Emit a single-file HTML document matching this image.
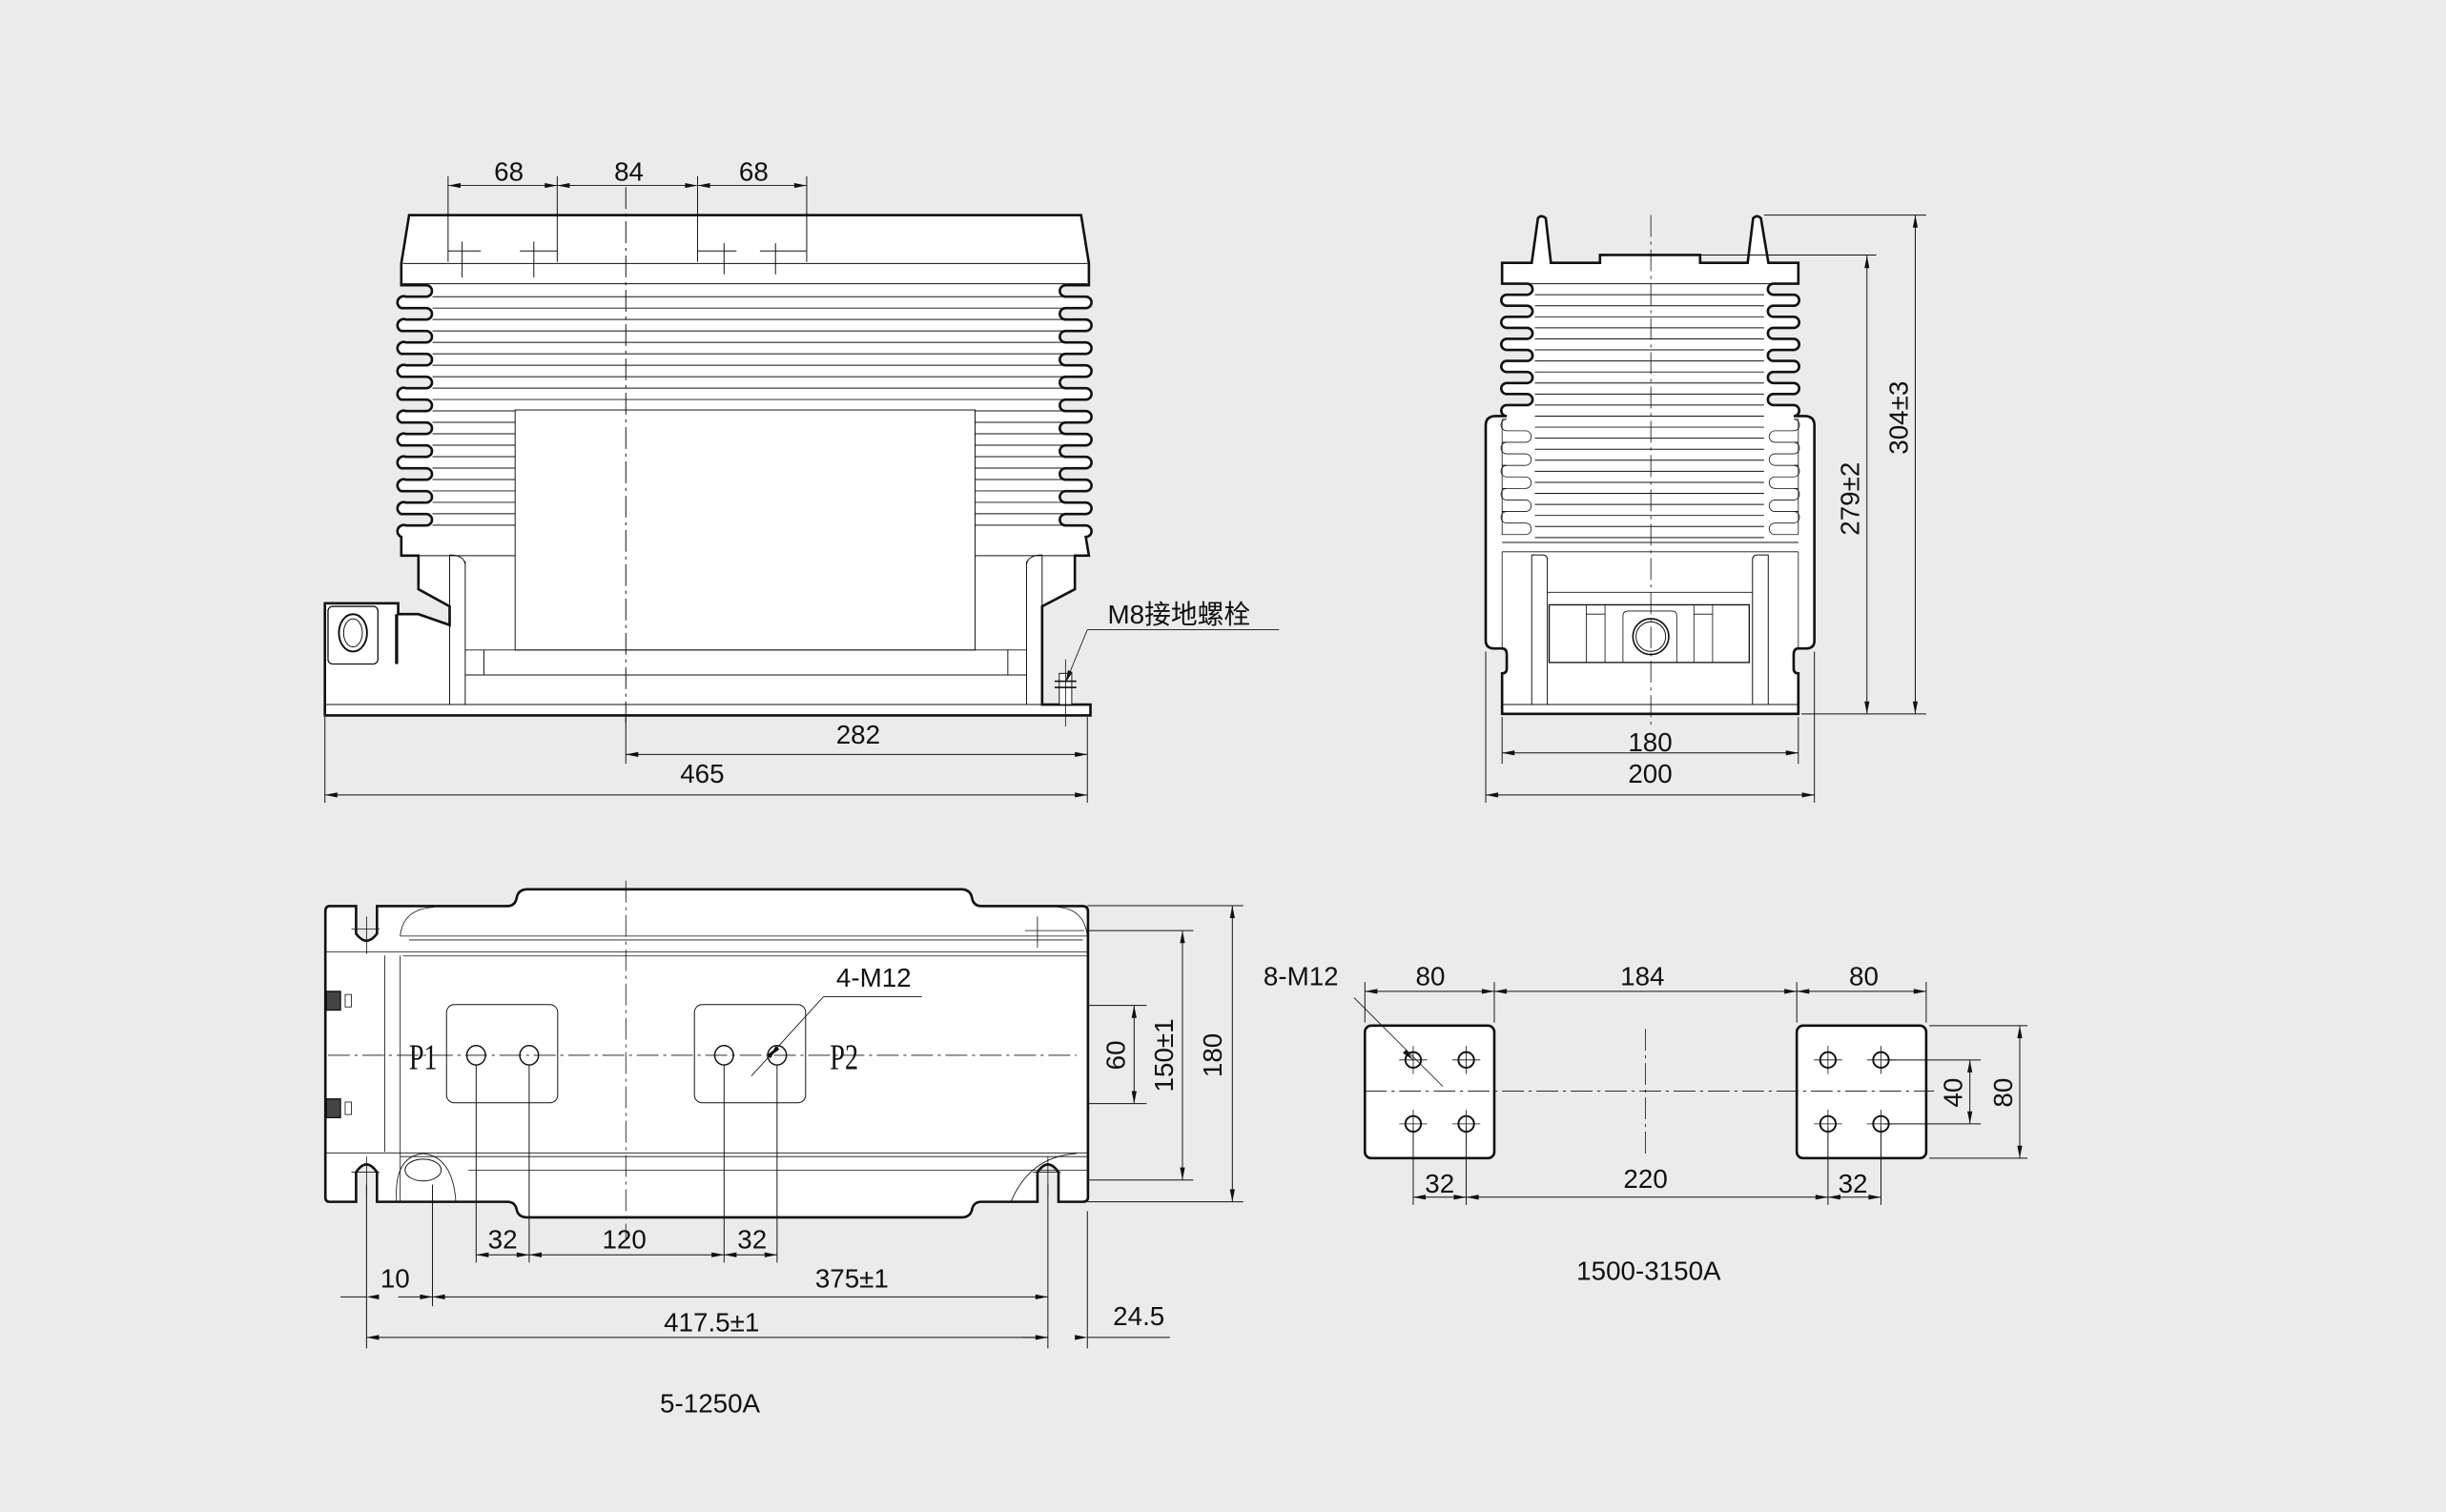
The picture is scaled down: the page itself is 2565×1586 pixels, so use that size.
<!DOCTYPE html>
<html><head><meta charset="utf-8"><style>
html,body{margin:0;padding:0;background:#ebebeb;}
svg{display:block;}
text{font-family:"Liberation Sans","Noto Sans CJK SC",sans-serif;fill:#111;font-size:17px;}
.p{font-family:"Liberation Serif",serif;font-size:23px;}
</style></head><body>
<svg id="s" width="2565" height="1586" viewBox="0 0 1568 970" xmlns="http://www.w3.org/2000/svg">
<rect width="1568" height="970" fill="#ebebeb"/>
<g id="g" fill="none" stroke="#111" stroke-width="0.8"></g>
<text x="326" y="116" text-anchor="middle">68</text>
<text x="403" y="116" text-anchor="middle">84</text>
<text x="483" y="116" text-anchor="middle">68</text>
<text x="550" y="477" text-anchor="middle">282</text>
<text x="450" y="502" text-anchor="middle">465</text>
<text x="710" y="400">M8接地螺栓</text>
<text x="1058" y="482" text-anchor="middle">180</text>
<text x="1058" y="502" text-anchor="middle">200</text>
<text transform="translate(1192,320) rotate(-90)" text-anchor="middle">279±2</text>
<text transform="translate(1223,268) rotate(-90)" text-anchor="middle">304±3</text>
<text x="560" y="633" text-anchor="middle">4-M12</text>
<text class="p" transform="translate(271,686) scale(0.75,1)" text-anchor="middle">P1</text>
<text class="p" transform="translate(541,686) scale(0.75,1)" text-anchor="middle">P2</text>
<text transform="translate(721,677) rotate(-90)" text-anchor="middle">60</text>
<text transform="translate(752,677) rotate(-90)" text-anchor="middle">150±1</text>
<text transform="translate(783,677) rotate(-90)" text-anchor="middle">180</text>
<text x="322" y="801" text-anchor="middle">32</text>
<text x="400" y="801" text-anchor="middle">120</text>
<text x="482" y="801" text-anchor="middle">32</text>
<text x="253" y="826" text-anchor="middle">10</text>
<text x="546" y="826" text-anchor="middle">375±1</text>
<text x="456" y="854" text-anchor="middle">417.5±1</text>
<text x="730" y="850" text-anchor="middle">24.5</text>
<text x="455" y="906" text-anchor="middle">5-1250A</text>
<text x="834" y="632" text-anchor="middle">8-M12</text>
<text x="917" y="632" text-anchor="middle">80</text>
<text x="1053" y="632" text-anchor="middle">184</text>
<text x="1195" y="632" text-anchor="middle">80</text>
<text x="923" y="765" text-anchor="middle">32</text>
<text x="1055" y="762" text-anchor="middle">220</text>
<text x="1188" y="765" text-anchor="middle">32</text>
<text transform="translate(1258,701) rotate(-90)" text-anchor="middle">40</text>
<text transform="translate(1290,701) rotate(-90)" text-anchor="middle">80</text>
<text x="1057" y="821" text-anchor="middle">1500-3150A</text>
</svg>
<script>
var g=document.getElementById('g'),h='';
function P(d,w,f){h+='<path d="'+d+'" stroke-width="'+(w||0.8)+'" fill="'+(f||'none')+'"/>';}
function L(x1,y1,x2,y2,w,da){h+='<line x1="'+x1+'" y1="'+y1+'" x2="'+x2+'" y2="'+y2+'" stroke-width="'+(w||0.6)+'"'+(da?' stroke-dasharray="'+da+'"':'')+'/>';}
function C(x,y,r,w){h+='<circle cx="'+x+'" cy="'+y+'" r="'+r+'" stroke-width="'+(w||1)+'" fill="#fff"/>';}
function arr(x,y,dx,dy){var px=-dy,py=dx;h+='<path d="M'+x+' '+y+' L'+(x+dx*8+px*1.6)+' '+(y+dy*8+py*1.6)+' L'+(x+dx*8-px*1.6)+' '+(y+dy*8-py*1.6)+'Z" fill="#111" stroke="none"/>';}
function HD(x1,x2,y){L(x1,y,x2,y,0.6);arr(x1,y,1,0);arr(x2,y,-1,0);}
function VD(x,y1,y2){L(x,y1,x,y2,0.6);arr(x,y1,0,1);arr(x,y2,0,-1);}
// ---------- FRONT VIEW ----------
var r=3.67,p=4*r,y0=183,n=11;
var d='M262 138 L693 138 L698 169 L698 '+y0;
var y=y0;
for(var i=0;i<n;i++){d+=' L683 '+y+' A'+r+' '+r+' 0 0 0 683 '+(y+2*r)+' L696 '+(y+2*r)+' A'+r+' '+r+' 0 0 1 696 '+(y+4*r);y+=p;}
var yb=y;
d+=' L698 '+(yb+12)+' L689 '+(yb+12)+' L689 378 L668 389 L668 452 L699 452 L699 459 L208 459 L208 387 L255 387 L255 394 L268 394 L288 401 L288 389 L268 378 L268 '+(yb+12)+' L257 '+(yb+12);
y=yb;
for(var i=0;i<n;i++){d+=' L257 '+y+' A'+r+' '+r+' 0 0 1 260 '+(y-2*r)+' L273 '+(y-2*r)+' A'+r+' '+r+' 0 0 0 273 '+(y-4*r);y-=p;}
d+=' L257 '+y0+' L257 169 Z';
P(d,1.6,'#fff');
L(258,169,697,169,0.6);L(258,182,697,182,0.6);
for(var k=1;k<22;k++){var yy=y0+k*7.33;if(yy<263){L(277,yy,681,yy,0.6);}else{L(277,yy,330,yy,0.6);L(625,yy,681,yy,0.6);}}
L(268,yb+12,689,yb+12,0.6);
h+='<rect x="330" y="263" width="295" height="154" fill="#fff" stroke="#111" stroke-width="0.6"/>';
L(298,417,658,417,0.6);L(298,433,658,433,0.6);L(310,417,310,433,0.6);L(646,417,646,433,0.6);
L(288,356,288,452,0.6);L(298,360,298,452,0.6);P('M288 356 Q297 356 298 362',0.6);
L(668,356,668,452,0.6);L(658,360,658,452,0.6);P('M668 356 Q659 356 658 362',0.6);
L(208,452,699,452,0.6);
h+='<rect x="210" y="389" width="32" height="37" rx="3" fill="#fff" stroke="#111" stroke-width="0.8"/>';
h+='<ellipse cx="226" cy="406" rx="9" ry="12" fill="none" stroke="#111" stroke-width="1.2"/><ellipse cx="226" cy="406" rx="6" ry="9" fill="none" stroke="#111" stroke-width="0.6"/>';
L(254,394,254,426,2);
L(287,113,287,168);L(357,113,357,168);L(447,113,447,168);L(517,113,517,168);
HD(287,357,119);HD(357,447,119);HD(447,517,119);
L(296,155,296,178);L(287,161,308,161);L(342,155,342,178);L(333,161,357,161);
L(464,156,464,176);L(447,161,472,161);L(497,156,497,176);L(487,161,517,161);
L(401,120,401,465,0.6,'14 3 2 3');
HD(401,697,484);L(401,460,401,490);L(697,460,697,515);
HD(208,697,510);L(208,460,208,515);
h+='<rect x="679" y="432" width="8" height="20" fill="#fff" stroke="#111" stroke-width="0.6"/>';
L(676,437,690,437,1);L(676,441,690,441,1);L(683,423,683,466,0.5);
L(683,438,697,404,0.5);arr(683,438,0.38,-0.93);L(697,404,820,404,0.5);
// ---------- SIDE VIEW ----------
var r2=3.54,m=6,tp=182,fb=tp+m*4*r2;
var sd='M963 168.6 L982 168.6 L986 140 Q988 137.5 991 140 L994.3 168.6 L1025.8 168.6 L1025.8 163.6 L1090 163.6 L1090 168.6 L1120.5 168.6 L1124 140 Q1126.5 137.5 1129 140 L1133.8 168.6 L1153 168.6 L1153 '+tp;
y=tp;
for(var i=0;i<m;i++){sd+=' L1137 '+y+' A'+r2+' '+r2+' 0 0 0 1137 '+(y+2*r2)+' L1150 '+(y+2*r2)+' A'+r2+' '+r2+' 0 0 1 1150 '+(y+4*r2);y+=4*r2;}
sd+=' L1157 '+fb+' Q1163.3 '+fb+' 1163.3 '+(fb+6)+' L1163.3 411 Q1163.3 416 1158 416 L1153 416 Q1150 416 1150 420 L1150 429 Q1150 432 1153 432 L1153 458 L963 458 L963 432 Q966 432 966 429 L966 420 Q966 416 963 416 L958 416 Q952.5 416 952.5 411 L952.5 '+(fb+6)+' Q952.5 '+fb+' 959 '+fb+' L963 '+fb;
y=fb;
for(var i=0;i<m;i++){sd+=' L966 '+y+' A'+r2+' '+r2+' 0 0 1 966 '+(y-2*r2)+' L979 '+(y-2*r2)+' A'+r2+' '+r2+' 0 0 0 979 '+(y-4*r2);y-=4*r2;}
sd+=' L963 '+tp+' Z';
P(sd,1.6,'#fff');
L(963,tp,1153,tp,0.6);
for(var k=1;k<40;k++){var yy=tp+k*7.08;if(yy>345)break;L(984,yy,1131,yy,0.6);}
var r3=3.7;y=fb+2;
for(var i=0;i<5;i++){P('M963 '+y+' L966 '+y+' A'+r3+' '+r3+' 0 0 0 966 '+(y+2*r3)+' L978 '+(y+2*r3)+' A'+r3+' '+r3+' 0 0 1 978 '+(y+4*r3)+' L963 '+(y+4*r3),0.5);
P('M1153 '+y+' L1150 '+y+' A'+r3+' '+r3+' 0 0 1 1150 '+(y+2*r3)+' L1138 '+(y+2*r3)+' A'+r3+' '+r3+' 0 0 0 1138 '+(y+4*r3)+' L1153 '+(y+4*r3),0.5);y+=4*r3;}
L(963,fb+2,963,y,0.5);L(1153,fb+2,1153,y,0.5);
L(963,348,1153,348,0.6);
L(963,354,963,416,0.5);L(1153,354,1153,416,0.5);
L(963,354,1153,354,0.5);
P('M982 452 L982 356 L989 356 Q992 356 992 359 L992 452',0.6);
P('M1133.7 452 L1133.7 356 L1127 356 Q1123.6 356 1123.6 359 L1123.6 452',0.6);
L(992,380,1123.6,380,0.6);
h+='<rect x="993.2" y="388" width="128.3" height="37" fill="#fff" stroke="#111" stroke-width="0.8"/>';
L(1017,388,1017,425,0.5);L(1029,388,1029,425,0.5);L(1017,394,1029,394,0.5);
L(1086,388,1086,425,0.5);L(1098,388,1098,425,0.5);L(1086,394,1098,394,0.5);
P('M1040.5 425 L1040.5 395 Q1040.5 392 1044 392 L1072 392 Q1075 392 1075 395 L1075 425',0.5);
C(1058.4,408.4,11.5,1);C(1058.4,408.4,9.5,0.6);
L(992,452,1123.6,452,0.5);L(963,452,1153,452,0.6);
L(1058.4,138,1058.4,465,0.5,'14 3 2 3');
L(963,460,963,490);L(1153,460,1153,490);HD(963,1153,483);
L(952.5,418,952.5,515);L(1163.3,418,1163.3,515);HD(952.5,1163.3,510);
L(1090,163.6,1203,163.6);L(1155,458,1235,458);L(1131,138,1235,138);
VD(1197,164,458);VD(1228,138,458);
// ---------- BOTTOM VIEW ----------
var bd='M211 581.3 L228 581.3 L228 599 Q234.7 608 241.4 599 L241.4 581.3 L325 581.3 Q330 581.3 331 576 Q332 570.5 338 570.5 L616 570.5 Q622 570.5 623 576 Q624 581.3 629 581.3 L694 581.3 Q697.4 581.3 697.4 585 L697.4 768 Q697.4 771 694 771 L678.5 771 L678.5 752 Q671.7 742 665 752 L665 771 L629 771 Q624 771 623 776 Q622 781 616 781 L338 781 Q332 781 331 776 Q330 771 325 771 L241.4 771 L241.4 752 Q234.7 742 228 752 L228 771 L211 771 Q208.3 771 208.3 768 L208.3 585 Q208.3 581.3 211 581.3 Z';
P(bd,1.6,'#fff');
P('M256.3 600.5 Q258 583 278 582',0.5);P('M697 600.5 Q695 583 678 582',0.5);
L(256.3,600.5,697,600.5,0.5);L(262,603,694,603,0.5);L(208.3,610.7,697.4,610.7,0.5);L(258,613.3,697,613.3,0.5);
L(208.3,739.6,697.4,739.6,0.5);L(256.3,742,697,742,0.5);L(300,750.8,697,750.8,0.5);
L(246.4,613,246.4,739,0.5);L(256.3,613,256.3,771,0.5);
P('M254 771 Q252 742 271 740 Q290 742 292 771',0.5);
P('M648 771 Q660 742 690 740',0.5);
h+='<ellipse cx="271" cy="750.6" rx="11.6" ry="7" fill="none" stroke="#111" stroke-width="0.6"/>';
h+='<rect x="286" y="644.5" width="71.3" height="63" rx="5" fill="none" stroke="#111" stroke-width="0.6"/>';
h+='<rect x="445" y="644.5" width="71.3" height="63" rx="5" fill="none" stroke="#111" stroke-width="0.6"/>';
[305,339,464,498].forEach(function(x){h+='<ellipse cx="'+x+'" cy="677" rx="6" ry="6.2" fill="#fff" stroke="#111" stroke-width="0.9"/>';});
L(210,677,690,677,0.5,'14 3 2 3');
L(401,565,401,795,0.5,'14 3 2 3');
h+='<rect x="209" y="636" width="9" height="12" fill="#444"/><rect x="209" y="705" width="9" height="12" fill="#444"/>';
h+='<rect x="221" y="638" width="4" height="8" fill="none" stroke="#111" stroke-width="0.5"/><rect x="221" y="707" width="4" height="8" fill="none" stroke="#111" stroke-width="0.5"/>';
L(234.7,588,234.7,612,0.5);L(225,596,243,596,0.5);L(234.7,742,234.7,768,0.5);L(225,752,243,752,0.5);
L(671.7,742,671.7,768,0.5);L(662,752,680,752,0.5);
L(665,588,665,608,0.5);L(657,597,695,597,0.5);
L(481.5,690.3,527.8,639.4,0.5);arr(498,672,-0.67,0.74);arr(493,678,0.67,-0.74);L(527.8,639.4,590.8,639.4,0.5);
L(697,645,735,645);L(697,708,735,708);VD(727,645,708);
L(697,597,765,597);L(697,757,765,757);VD(758,597,757);
L(697,581,797,581);L(697,771,797,771);VD(790,581,771);
L(305,683,305,810);L(339,683,339,810);L(464,683,464,810);L(498,683,498,810);
HD(305,339,805);HD(339,464,805);HD(464,498,805);
L(234.7,760,234.7,865);L(277,760,277,838);L(671.7,760,671.7,865);L(697,777,697,865);
L(255,832,277,832);arr(277,832,-1,0);L(234.7,832,218,832);arr(234.7,832,1,0);
HD(277,671.7,832);HD(234.7,671.7,858);
L(671.7,858,655,858);L(697,858,750,858);arr(697,858,-1,0);
// ---------- PLATES ----------
h+='<rect x="875" y="658" width="83" height="85" rx="4" fill="#fff" stroke="#111" stroke-width="1.6"/>';
h+='<rect x="1152" y="658" width="83" height="85" rx="4" fill="#fff" stroke="#111" stroke-width="1.6"/>';
[[906,680],[940,680],[906,721],[940,721],[1172,680],[1206,680],[1172,721],[1206,721]].forEach(function(c){C(c[0],c[1],5,1.2);L(c[0]-9,c[1],c[0]+9,c[1],0.5);L(c[0],c[1]-9,c[0],c[1]+9,0.5);});
L(875,700,1240,700,0.5,'14 3 2 3');L(1055,660,1055,740,0.5,'14 3 2 3');
L(875,630,875,656);L(958,630,958,656);L(1152,630,1152,656);L(1235,630,1235,656);
HD(875,958,636);HD(958,1152,636);HD(1152,1235,636);
L(906,723,906,773);L(940,723,940,773);L(1172,723,1172,773);L(1206,723,1206,773);
HD(906,940,768);HD(940,1172,768);HD(1172,1206,768);
L(1208,680,1270,680);L(1208,721,1270,721);VD(1263,680,721);
L(1237,658,1300,658);L(1237,743,1300,743);VD(1295,658,743);
L(868,640,925,697,0.5);arr(906,680,-0.7,-0.7);
g.innerHTML=h;
</script>
</body></html>
